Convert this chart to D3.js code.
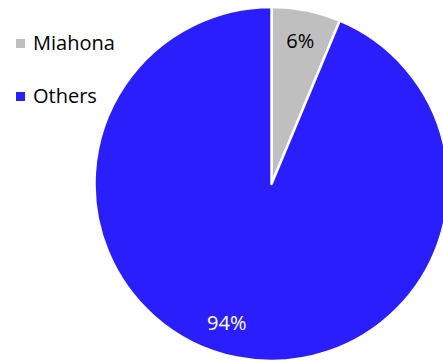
<!DOCTYPE html>
<html>
<head>
<meta charset="utf-8">
<script src="https://cdn.jsdelivr.net/npm/d3@7"></script>
<style>
  body { margin: 0; background: #fff; }
  svg { display: block; font-family: "Open Sans", sans-serif; }
</style>
</head>
<body>
<div id="chart"></div>
<script>
// chart data
const categories = ["Miahona", "Others"];
const shares = [6.3, 93.7];
const colors = ["#bfbfbf", "#2a1ffc"];
const labelColors = ["#000", "#fff"];

const width = 443, height = 361;
const cx = 271.5, cy = 184, radius = 177;

const svg = d3.select("#chart").append("svg")
    .attr("width", width)
    .attr("height", height);

const pie = d3.pie().sort(null).value(d => d.value);
const arcs = pie(categories.map((c, i) => ({ name: c, value: shares[i] })));

const arc = d3.arc().innerRadius(0).outerRadius(radius);
const labelArc = d3.arc().innerRadius(146).outerRadius(146);

const g = svg.append("g").attr("transform", `translate(${cx},${cy})`);

g.selectAll("path")
    .data(arcs)
    .enter().append("path")
    .attr("d", arc)
    .attr("fill", (d, i) => colors[i])
    .attr("stroke", "#fff")
    .attr("stroke-width", 2.5)
    .attr("stroke-linejoin", "round");

// big slice label sits a bit left of its centroid, like the original
const labelShift = [0, -16];

g.selectAll("text")
    .data(arcs)
    .enter().append("text")
    .attr("transform", (d, i) => {
        const [x, y] = labelArc.centroid(d);
        return `translate(${x + labelShift[i]},${y - (i ? 4 : 0)})`;
    })
    .attr("text-anchor", "middle")
    .attr("dy", "0.35em")
    .attr("font-size", 20)
    .attr("fill", (d, i) => labelColors[i])
    .text(d => Math.round(d.data.value) + "%");

// legend
const legend = svg.append("g").attr("transform", "translate(16,39)");
const item = legend.selectAll("g")
    .data(categories)
    .enter().append("g")
    .attr("transform", (d, i) => `translate(0,${i * 53})`);

item.append("rect")
    .attr("width", 9)
    .attr("height", 9)
    .attr("fill", (d, i) => colors[i]);

item.append("text")
    .attr("x", 17)
    .attr("y", 11)
    .attr("font-size", 20)
    .attr("fill", "#000")
    .text(d => d);
</script>
</body>
</html>
